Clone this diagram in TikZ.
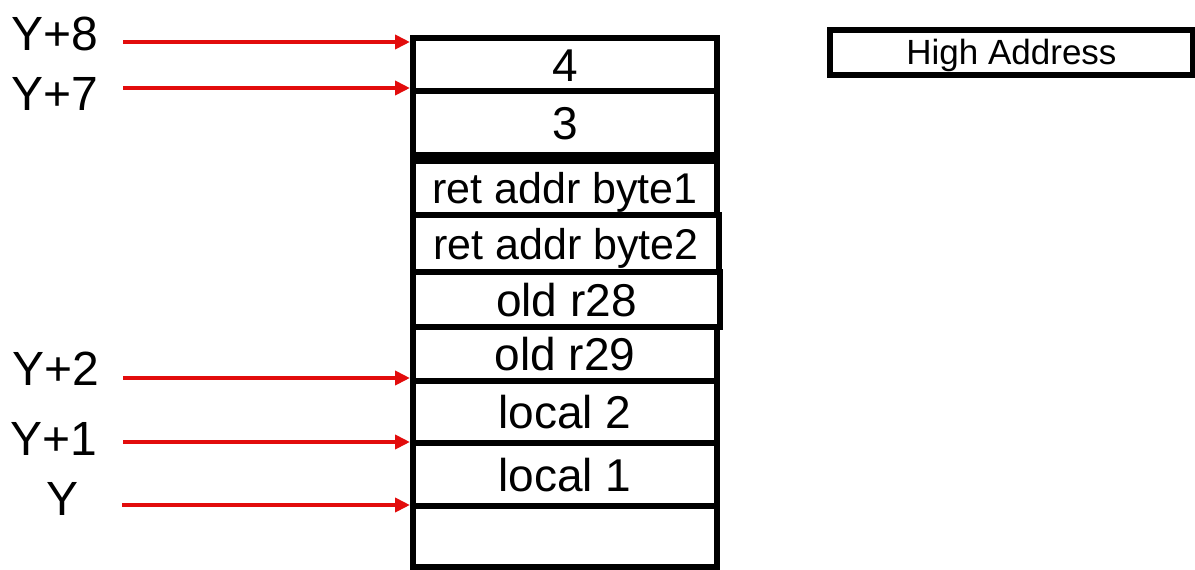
\documentclass[tikz,border=0pt]{standalone}
\usepackage{fontspec}
\setmainfont{Liberation Sans}
\usetikzlibrary{arrows.meta}
\definecolor{ptr}{RGB}{226,12,12}
\newcommand{\cellfont}{\fontsize{46pt}{46pt}\selectfont}
\newcommand{\smallcellfont}{\fontsize{43pt}{43pt}\selectfont}
\begin{document}
\begin{tikzpicture}[x=1pt,y=-1pt,
  cell/.style={draw=black, line width=6pt, minimum width=304pt, inner sep=0pt,
               text depth=0pt, font=\cellfont},
  retcell/.style={cell, font=\smallcellfont},
  ptrarrow/.style={draw=ptr, line width=4pt, -{Triangle[length=15pt,width=14pt]}},
  ptrlabel/.style={anchor=base, font=\fontsize{48pt}{48pt}\selectfont},
  legend/.style={draw=black, line width=6pt, minimum width=363pt, minimum height=45pt,
                 inner sep=0pt, text depth=0pt, font=\fontsize{35pt}{35pt}\selectfont}
]
\useasboundingbox (0,0) rectangle (1195,570);

% stack frames, top (high address) to bottom
\node[cell, minimum height=53pt] (b4)  at (565,64.5)  {\raisebox{-2pt}{4}};
\node[cell, minimum height=64pt] (b3)  at (565,123)   {3};
\node[retcell, minimum height=54pt] (ret1) at (565,188) {ret addr byte1};
\node[retcell, minimum height=57pt, minimum width=306pt] (ret2) at (566,243.5) {ret addr byte2};
\node[cell, minimum height=55pt, minimum width=307pt] (r28) at (566.5,299.5) {old r28};
\node[cell, minimum height=54pt] (r29) at (565,354)   {old r29};
\node[cell, minimum height=62pt] (l2)  at (565,412)   {local 2};
\node[cell, minimum height=63pt] (l1)  at (565,474.5) {local 1};
\node[cell, minimum height=61pt] (e0)  at (565,536.5) {};

% address legend
\node[legend] (hi) at (1011.5,52.5) {\raisebox{2pt}{High Address}};

% pointer labels
\node[ptrlabel] (ly8) at (54.5,50)  {Y+8};
\node[ptrlabel] (ly7) at (54.5,110) {Y+7};
\node[ptrlabel] (ly2) at (56,385)   {Y+2};
\node[ptrlabel] (ly1) at (54,455)   {Y+1};
\node[ptrlabel] (ly0) at (63,515)   {Y};

% pointer arrow tails
\coordinate (p8) at (123,42);
\coordinate (p7) at (123,88);
\coordinate (p2) at (123,378);
\coordinate (p1) at (123,442);
\coordinate (p0) at (122,505);

\draw[ptrarrow] (p8) -- (p8 -| b4.west);
\draw[ptrarrow] (p7) -- (p7 -| b3.west);
\draw[ptrarrow] (p2) -- (p2 -| l2.west);
\draw[ptrarrow] (p1) -- (p1 -| l1.west);
\draw[ptrarrow] (p0) -- (p0 -| e0.west);
\end{tikzpicture}
\end{document}
